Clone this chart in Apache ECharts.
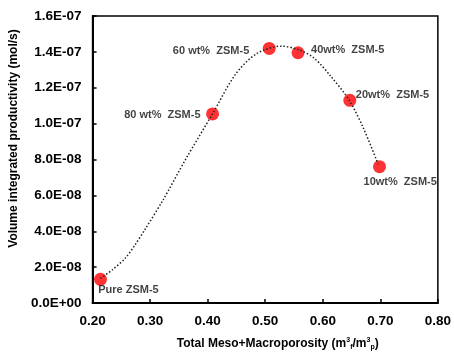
<!DOCTYPE html>
<html>
<head>
<meta charset="utf-8">
<script src="https://cdn.jsdelivr.net/npm/echarts@6/dist/echarts.min.js"></script>
<style>
html,body{margin:0;padding:0;background:#fff;}
#chart{width:454px;height:356px;}
</style>
</head>
<body>
<div id="chart"></div>
<script>
// measured points
var names=['Pure ZSM-5','80 wt%  ZSM-5','60 wt%  ZSM-5','40wt%  ZSM-5','20wt%  ZSM-5','10wt%  ZSM-5'];
var porosity=[0.2137,0.4085,0.507,0.557,0.647,0.6986];
var productivity=[1.32e-8,1.054e-7,1.419e-7,1.395e-7,1.13e-7,7.6e-8];
// dotted trend line
var trendX=[0.2137,0.2342,0.2569,0.2740,0.2911,0.3226,0.3624,0.4085,0.4484,0.4850,0.5282,0.5600,0.5851,0.6137,0.6450,0.6706,0.6962];
var trendY=[1.37e-8,1.85e-8,2.5e-8,3.25e-8,4.1e-8,5.75e-8,8.05e-8,1.055e-7,1.275e-7,1.39e-7,1.432e-7,1.41e-7,1.365e-7,1.265e-7,1.135e-7,9.75e-8,7.74e-8];
var xTicks=[0.2,0.8,0.1];
var yTicks=[0,1.6e-7,2e-8];

// label placement (align, dx, dy) per point
var labelAlign=['center','right','right','left','left','left'];
var labelOffset=[[28,11],[-12,1],[-20,3],[13,-3],[6,-5],[-16,15]];

var FONT='"Liberation Sans", Arial, sans-serif';
var el=document.getElementById('chart');
var ec=echarts.init(el);
ec.setOption({
  animation:false,
  grid:{left:88,right:15,top:16,bottom:48,show:true,borderColor:'#000',borderWidth:1.5,backgroundColor:'transparent'},
  xAxis:{type:'value',min:xTicks[0],max:xTicks[1],interval:xTicks[2],
    axisLine:{show:true,lineStyle:{color:'#000',width:2}},
    axisTick:{show:true,inside:true,length:4,lineStyle:{color:'#000',width:1.5}},
    splitLine:{show:false},
    axisLabel:{color:'#000',fontFamily:FONT,fontWeight:'bold',fontSize:13.5,margin:11,
      formatter:function(v){return v.toFixed(2);}},
    name:'{t|Total Meso+Macroporosity (m}{sup|3}{sub|f}{t|/m}{sup|3}{sub|p}{t|)}',
    nameLocation:'middle',nameGap:34,
    nameTextStyle:{padding:[0,0,0,25],
      rich:{
        t:{fontFamily:FONT,fontWeight:'bold',fontSize:12,color:'#000'},
        sup:{fontFamily:FONT,fontWeight:'bold',fontSize:7,color:'#000',padding:[0,0,7,0]},
        sub:{fontFamily:FONT,fontWeight:'bold',fontSize:7,color:'#000',padding:[7,0,0,0]}
      }}
  },
  yAxis:{type:'value',min:yTicks[0],max:yTicks[1],interval:yTicks[2],
    axisLine:{show:true,lineStyle:{color:'#000',width:2}},
    axisTick:{show:true,inside:true,length:4,lineStyle:{color:'#000',width:1.5}},
    splitLine:{show:false},
    axisLabel:{color:'#000',fontFamily:FONT,fontWeight:'bold',fontSize:13.5,margin:11,
      formatter:function(v){
        var s=v.toExponential(1).toUpperCase();
        return s.replace(/E([+-])(\d)$/,'E$10$2');
      }},
    name:'Volume integrated productivity (mol/s)',
    nameLocation:'middle',nameGap:66,
    nameTextStyle:{color:'#000',fontFamily:FONT,fontWeight:'bold',fontSize:12,padding:[0,0,0,42]}
  },
  series:[
    {type:'scatter',symbol:'circle',symbolSize:13,z:2,
      itemStyle:{color:'#ff0000'},
      data:porosity.map(function(x,i){
        return {value:[x,productivity[i]],name:names[i],
          label:{show:true,position:'inside',align:labelAlign[i],verticalAlign:'middle',
            offset:labelOffset[i],formatter:names[i],color:'#111',
            fontFamily:FONT,fontWeight:'bold',fontSize:11}};
      })},
    {type:'line',smooth:0.3,symbol:'none',z:3,silent:true,
      lineStyle:{color:'#222',width:1.5,type:[1.5,2]},
      data:trendX.map(function(x,i){return [x,trendY[i]];})}
  ]
});
</script>
</body>
</html>
